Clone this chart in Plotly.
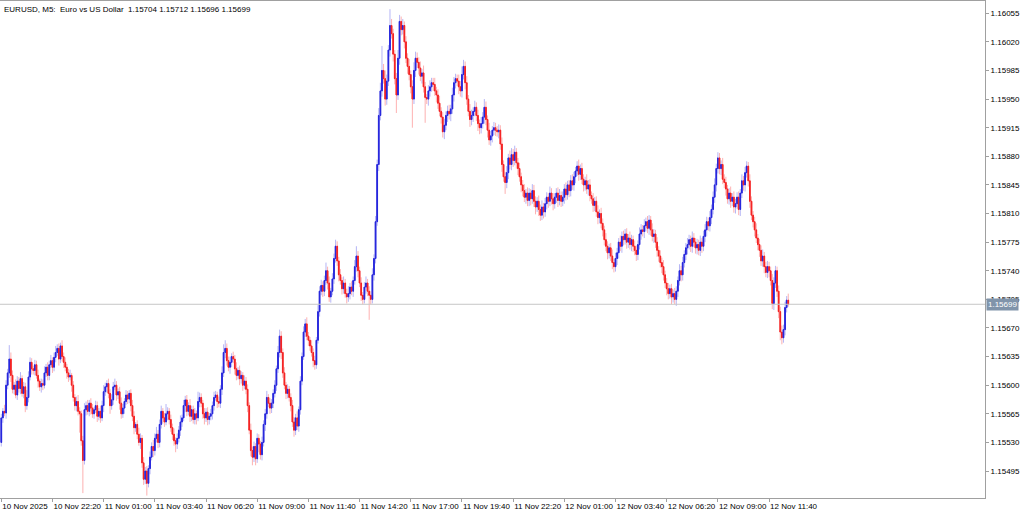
import plotly.graph_objects as go

# ---------------- data (prices in points above 1.15000) ----------------
BASE = 1.15
FIRST_OPEN = 530

CLOSE_PTS = [
    560, 568, 566, 600, 615, 632, 612, 595, 600, 588,
    605, 596, 608, 590, 598, 575, 585, 610, 628, 620,
    618, 625, 612, 605, 598, 602, 600, 615, 622, 612,
    625, 630, 622, 634, 640, 645, 632, 648, 635, 628,
    622, 615, 610, 612, 600, 585, 575, 580, 568, 565,
    532, 508, 570, 575, 568, 578, 572, 565, 570, 575,
    562, 568, 560, 575, 592, 598, 602, 590, 575, 582,
    598, 600, 588, 592, 578, 565, 572, 580, 588, 583,
    590, 575, 562, 548, 552, 540, 530, 535, 505, 485,
    495, 480, 498, 512, 525, 520, 535, 540, 530, 552,
    568, 560, 555, 565, 568, 558, 548, 540, 532, 528,
    535, 545, 555, 560, 575, 582, 568, 575, 562, 570,
    558, 565, 560, 580, 585, 578, 565, 560, 567, 558,
    562, 565, 575, 585, 588, 580, 578, 595, 615, 640,
    645, 630, 622, 628, 635, 632, 620, 612, 618, 608,
    612, 600, 605, 595, 575, 545, 520, 512, 525, 510,
    535, 528, 515, 530, 552, 565, 585, 578, 572, 578,
    590, 600, 620, 640, 660, 640, 615, 600, 590, 595,
    585, 575, 555, 545, 560, 550, 570, 605, 635, 665,
    675, 660, 655, 648, 640, 630, 625, 655, 690, 715,
    722, 715, 728, 740, 725, 708, 715, 730, 755, 770,
    752, 735, 728, 718, 725, 712, 708, 712, 720, 715,
    728, 745, 758, 740, 725, 710, 705, 720, 725, 715,
    710, 705, 735, 755, 800, 870, 930, 960, 985, 975,
    950, 972, 1010, 1040, 1030, 1005, 975, 955, 1000, 1045,
    1035, 1040, 1020, 1000, 990, 980, 965, 950, 985, 1000,
    995, 988, 978, 982, 965, 952, 950, 960, 965, 970,
    968, 960, 955, 945, 935, 928, 910, 918, 930, 935,
    932, 938, 955, 970, 975, 972, 965, 960, 980, 990,
    970, 950, 935, 925, 930, 935, 940, 930, 920, 915,
    920, 928, 940, 925, 912, 900, 905, 912, 915, 912,
    910, 912, 895, 870, 855, 848, 860, 878, 870, 882,
    875, 885, 872, 865, 855, 845, 838, 830, 835, 826,
    835, 828, 838, 825, 818, 825, 815, 808, 818, 812,
    822, 830, 825, 835, 828, 822, 830, 835, 826, 832,
    825, 830, 840, 833, 845, 838, 850, 845, 855, 862,
    868, 858, 865, 852, 845, 850, 840, 845, 832, 828,
    820, 825, 812, 805, 810, 798, 790, 778, 770, 762,
    768, 758, 750, 745, 755, 762, 775, 770, 782, 778,
    785, 775, 780, 772, 778, 770, 765, 760, 772, 785,
    790, 788, 795, 800, 792, 802, 790, 782, 785, 775,
    765, 758, 750, 745, 735, 725, 718, 712, 718, 708,
    712, 705, 715, 728, 740, 735, 750, 760, 768, 772,
    778, 770, 780, 775, 768, 772, 765, 775, 770, 782,
    790, 800, 795, 805, 815, 830, 845, 865, 878, 865,
    870, 852, 848, 840, 828, 835, 825, 830, 818, 822,
    830, 815, 835, 850, 845, 860, 868, 850, 825, 808,
    800, 790, 780, 772, 765, 752, 758, 745, 738, 745,
    740, 728, 700, 725, 740, 715, 690, 665, 658, 668,
    695, 704, 699,
]

UPPER_WICK = [
    5, 4, 8, 6, 5, 17, 8, 6, 4, 7,
    6, 5, 8, 4, 6, 5, 9, 7, 6, 5,
    4, 6, 5, 7, 3, 6, 5, 8, 4, 6,
    5, 7, 4, 6, 8, 5, 6, 4, 7, 5,
    6, 4, 5, 7, 3, 5, 4, 6, 8, 5,
    4, 6, 8, 5, 7, 4, 6, 5, 3, 6,
    5, 4, 7, 6, 8, 5, 4, 6, 5, 7,
    6, 8, 5, 4, 6, 7, 5, 4, 6, 5,
    4, 5, 7, 6, 3, 5, 8, 6, 4, 7,
    5, 6, 4, 7, 5, 8, 6, 9, 5, 6,
    7, 4, 6, 12, 5, 4, 6, 5, 7, 4,
    6, 5, 8, 4, 7, 5, 6, 4, 8, 5,
    5, 7, 4, 12, 6, 5, 4, 7, 5, 6,
    4, 6, 5, 7, 5, 4, 6, 5, 8, 10,
    10, 6, 5, 7, 4, 6, 5, 8, 4, 6,
    5, 4, 7, 5, 6, 4, 8, 5, 6, 4,
    6, 5, 4, 7, 5, 6, 8, 4, 6, 5,
    5, 6, 4, 8, 8, 6, 5, 7, 4, 6,
    4, 5, 7, 6, 5, 8, 4, 6, 5, 7,
    6, 8, 5, 4, 7, 5, 6, 4, 8, 6,
    7, 5, 6, 10, 5, 8, 4, 7, 6, 8,
    6, 5, 7, 4, 8, 5, 6, 9, 5, 7,
    5, 8, 12, 6, 5, 7, 4, 6, 8, 5,
    6, 5, 8, 5, 7, 6, 9, 10, 30, 8,
    10, 8, 6, 20, 8, 6, 5, 7, 10, 8,
    6, 8, 5, 7, 6, 9, 5, 8, 10, 8,
    7, 6, 8, 5, 9, 6, 4, 7, 8, 6,
    6, 8, 5, 7, 9, 5, 6, 8, 5, 7,
    8, 5, 9, 7, 6, 5, 8, 7, 10, 8,
    6, 8, 5, 9, 7, 5, 8, 6, 7, 5,
    8, 6, 10, 7, 5, 9, 6, 5, 7, 6,
    5, 7, 6, 8, 5, 6, 8, 5, 9, 8,
    7, 8, 5, 6, 7, 5, 6, 8, 5, 7,
    6, 5, 8, 7, 6, 5, 7, 6, 8, 5,
    7, 6, 5, 8, 6, 7, 5, 6, 7, 8,
    5, 7, 6, 8, 5, 6, 7, 8, 6, 5,
    6, 8, 5, 7, 6, 5, 8, 6, 7, 5,
    7, 5, 6, 8, 5, 7, 6, 5, 8, 6,
    5, 6, 8, 5, 7, 6, 5, 8, 6, 7,
    6, 7, 5, 8, 6, 5, 7, 6, 5, 8,
    7, 6, 8, 5, 7, 6, 5, 8, 6, 5,
    6, 5, 7, 6, 8, 5, 6, 7, 5, 6,
    5, 7, 6, 5, 8, 6, 7, 5, 6, 8,
    6, 5, 8, 6, 5, 7, 6, 8, 5, 7,
    7, 6, 5, 8, 6, 7, 8, 6, 7, 6,
    5, 8, 6, 7, 5, 6, 8, 5, 7, 6,
    6, 7, 5, 8, 6, 7, 6, 5, 8, 6,
    5, 6, 8, 5, 7, 6, 8, 5, 6, 7,
    6, 5, 8, 7, 6, 5, 7, 6, 8, 6,
    7, 5, 8,
]

LOWER_WICK = [
    5, 6, 4, 7, 5, 6, 8, 5, 6, 4,
    6, 5, 7, 4, 6, 8, 5, 6, 4, 7,
    5, 6, 4, 8, 5, 7, 6, 4, 5, 6,
    6, 4, 7, 5, 6, 4, 8, 5, 6, 7,
    5, 7, 6, 4, 8, 5, 6, 7, 5, 23,
    6, 40, 5, 7, 4, 6, 8, 5, 6, 4,
    7, 5, 6, 4, 8, 5, 7, 6, 10, 5,
    6, 4, 7, 5, 8, 6, 5, 7, 4, 6,
    5, 7, 6, 8, 5, 6, 4, 8, 6, 7,
    6, 15, 5, 7, 4, 8, 6, 5, 7, 6,
    5, 7, 6, 4, 8, 6, 5, 7, 6, 10,
    6, 5, 7, 6, 4, 8, 6, 5, 7, 6,
    5, 6, 8, 4, 7, 5, 6, 8, 5, 7,
    6, 5, 7, 6, 4, 8, 5, 6, 7, 5,
    7, 6, 5, 8, 6, 5, 7, 6, 5, 8,
    6, 7, 5, 6, 8, 5, 7, 10, 6, 8,
    5, 10, 6, 7, 5, 8, 6, 5, 7, 6,
    6, 5, 7, 5, 6, 8, 6, 5, 7, 6,
    5, 7, 6, 8, 6, 5, 7, 6, 5, 4,
    6, 5, 7, 6, 5, 8, 6, 5, 4, 6,
    5, 7, 6, 5, 8, 6, 7, 5, 6, 5,
    6, 8, 5, 7, 6, 5, 8, 6, 7, 5,
    7, 5, 6, 8, 5, 7, 6, 5, 8, 6,
    30, 6, 5, 7, 6, 5, 8, 6, 7, 6,
    8, 7, 6, 8, 6, 9, 7, 22, 6, 8,
    7, 6, 8, 6, 9, 7, 8, 35, 6, 8,
    7, 8, 6, 9, 7, 31, 6, 8, 7, 6,
    8, 6, 9, 7, 6, 8, 7, 9, 6, 8,
    7, 9, 6, 8, 7, 6, 9, 7, 8, 6,
    8, 7, 6, 9, 7, 8, 6, 7, 9, 8,
    7, 6, 8, 7, 9, 6, 7, 8, 6, 7,
    6, 8, 7, 9, 6, 14, 7, 8, 6, 7,
    8, 6, 7, 8, 6, 9, 7, 6, 8, 7,
    7, 8, 6, 7, 9, 6, 8, 7, 6, 8,
    6, 7, 8, 6, 7, 8, 6, 7, 8, 6,
    7, 6, 8, 7, 6, 8, 7, 6, 7, 8,
    6, 8, 7, 6, 8, 7, 6, 8, 7, 6,
    8, 7, 6, 8, 7, 6, 8, 7, 6, 8,
    7, 6, 8, 7, 6, 8, 7, 6, 8, 7,
    6, 8, 7, 6, 8, 7, 6, 8, 7, 6,
    7, 6, 8, 7, 6, 8, 7, 6, 8, 7,
    8, 7, 6, 8, 7, 6, 8, 7, 6, 9,
    7, 6, 8, 7, 6, 8, 7, 6, 7, 8,
    6, 7, 8, 6, 7, 8, 6, 7, 8, 6,
    7, 8, 6, 7, 8, 6, 7, 8, 6, 7,
    8, 6, 7, 8, 6, 7, 8, 6, 7, 8,
    6, 7, 8, 6, 7, 8, 6, 7, 8, 6,
    7, 8, 6, 7, 8, 6, 7, 8, 6, 7,
    8, 6, 7, 8, 6, 7, 8, 10, 8, 6,
    7, 6, 3,
]

TICK_BARS = [0, 32, 64, 96, 128, 160, 192, 224, 256, 288, 320, 352, 384, 416, 448, 480]
TICK_LABELS = [
    "10 Nov 2025", "10 Nov 22:20", "11 Nov 01:00", "11 Nov 03:40",
    "11 Nov 06:20", "11 Nov 09:00", "11 Nov 11:40", "11 Nov 14:20",
    "11 Nov 17:00", "11 Nov 19:40", "11 Nov 22:20", "12 Nov 01:00",
    "12 Nov 03:40", "12 Nov 06:20", "12 Nov 09:00", "12 Nov 11:40",
]
Y_TICKS = [1.15495, 1.15530, 1.15565, 1.15600, 1.15635, 1.15670, 1.15705,
           1.15740, 1.15775, 1.15810, 1.15845, 1.15880, 1.15915, 1.15950,
           1.15985, 1.16020, 1.16055]
LAST_PRICE = 1.15699
TITLE = "EURUSD, M5:  Euro vs US Dollar  1.15704 1.15712 1.15696 1.15699"

# ---------------- build OHLC ----------------
open_pts = [FIRST_OPEN] + CLOSE_PTS[:-1]
n = len(CLOSE_PTS)
idx = list(range(n))
o = [BASE + v / 1e5 for v in open_pts]
c = [BASE + v / 1e5 for v in CLOSE_PTS]
h = [BASE + (max(a, b) + u) / 1e5 for a, b, u in zip(open_pts, CLOSE_PTS, UPPER_WICK)]
l = [BASE + (min(a, b) - d) / 1e5 for a, b, d in zip(open_pts, CLOSE_PTS, LOWER_WICK)]
body_hi = [max(a, b) for a, b in zip(o, c)]
body_lo = [min(a, b) for a, b in zip(o, c)]

BLUE = "#2626dc"
RED = "#f42424"
BLUE_L = "rgba(60,60,230,0.38)"
RED_L = "rgba(250,50,50,0.38)"

fig = go.Figure()
# wicks (lighter)
fig.add_trace(go.Candlestick(
    x=idx, open=o, high=h, low=l, close=c,
    increasing=dict(line=dict(color=BLUE_L, width=1), fillcolor=BLUE_L),
    decreasing=dict(line=dict(color=RED_L, width=1), fillcolor=RED_L),
    showlegend=False, hoverinfo="skip",
))
# bodies (solid)
fig.add_trace(go.Candlestick(
    x=idx, open=o, high=body_hi, low=body_lo, close=c,
    increasing=dict(line=dict(color=BLUE, width=1), fillcolor=BLUE),
    decreasing=dict(line=dict(color=RED, width=1), fillcolor=RED),
    showlegend=False, hoverinfo="skip",
))

FONT = "Liberation Sans, Arial, sans-serif"
AXC = "#a0a0a0"

fig.add_shape(type="line", xref="paper", x0=0, x1=1, yref="y",
              y0=LAST_PRICE, y1=LAST_PRICE, line=dict(color="#c6c6c6", width=1))

fig.add_annotation(xref="paper", yref="y", x=1, y=LAST_PRICE, xanchor="left",
                   yanchor="middle", xshift=1, text="1.15699", showarrow=False,
                   bgcolor="#8094aa", borderpad=1,
                   font=dict(family=FONT, size=8, color="white"))
fig.add_annotation(xref="paper", yref="paper", x=0, y=1, xanchor="left",
                   yanchor="top", xshift=2, yshift=-2, text=TITLE, showarrow=False,
                   font=dict(family=FONT, size=8, color="black"))

fig.update_layout(
    width=1024, height=511,
    margin=dict(l=0, r=39, t=1, b=13),
    paper_bgcolor="white", plot_bgcolor="white",
    font=dict(family=FONT, size=8, color="black"),
    showlegend=False,
    boxgap=0.35,
    xaxis=dict(
        range=[-0.8, 615], rangeslider=dict(visible=False),
        tickmode="array", tickvals=TICK_BARS, ticktext=TICK_LABELS,
        ticks="outside", ticklen=3, tickcolor=AXC, ticklabelposition="outside right",
        tickangle=0,
        showgrid=False, zeroline=False, showline=True, mirror=True,
        linecolor=AXC, linewidth=1, tickfont=dict(size=8),
    ),
    yaxis=dict(
        range=[1.154620, 1.160700], side="right",
        tickmode="array", tickvals=Y_TICKS, ticktext=[f"{v:.5f}" for v in Y_TICKS],
        ticks="outside", ticklen=3, tickcolor=AXC,
        showgrid=False, zeroline=False, showline=True, mirror=True,
        linecolor=AXC, linewidth=1, tickfont=dict(size=8),
    ),
)

fig.write_html(
    "out.html",
    config={"displayModeBar": False},
    post_script="document.body.style.margin='0';document.body.style.overflow='hidden';",
)
